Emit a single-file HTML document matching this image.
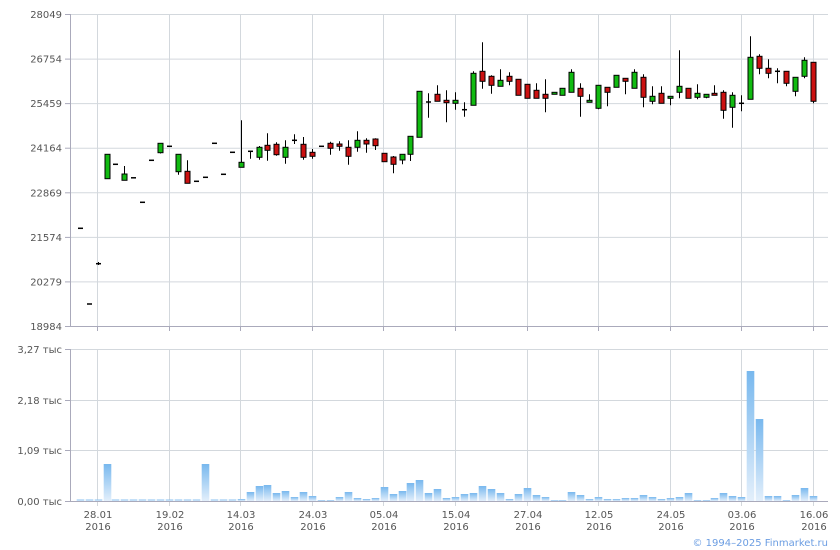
<!DOCTYPE html>
<html><head><meta charset="utf-8"><style>
html,body{margin:0;padding:0;background:#fff;}
svg{display:block;font-family:"DejaVu Sans",Verdana,sans-serif;}
</style></head><body>
<svg id="s" width="840" height="550" xmlns="http://www.w3.org/2000/svg">
<defs><linearGradient id="vg" x1="0" y1="0" x2="0" y2="1"><stop offset="0" stop-color="#78b8ee"/><stop offset="1" stop-color="#e3effb"/></linearGradient></defs>
<g id="grid" stroke="#d3d8dd" stroke-width="1"></g>
<g id="lab" font-size="10" fill="#555"></g>
<g id="vol"></g>
<g id="cnd"></g>
<text x="828" y="546" font-size="10" fill="#6b9de2" text-anchor="end">© 1994–2025 Finmarket.ru</text>
</svg>
<script>
var NS="http://www.w3.org/2000/svg";
function el(p,t,a,txt){var e=document.createElementNS(NS,t);for(var k in a)e.setAttribute(k,a[k]);if(txt!=null)e.textContent=txt;document.getElementById(p).appendChild(e);return e;}
var py=[14,58.6,103.1,147.7,192.3,236.9,281.4,326],pl=["28049","26754","25459","24164","22869","21574","20279","18984"];
for(var i=0;i<8;i++){el("grid","line",{x1:70,x2:828,y1:py[i]+.5,y2:py[i]+.5});el("grid","line",{x1:65,x2:70,y1:py[i]+.5,y2:py[i]+.5,stroke:"#aab"});el("lab","text",{x:62,y:py[i]+4,"text-anchor":"end"},pl[i]);}
var vy=[349,400,450,501],vl=["3,27 тыс","2,18 тыс","1,09 тыс","0,00 тыс"];
for(i=0;i<4;i++){el("grid","line",{x1:70,x2:828,y1:vy[i]+.5,y2:vy[i]+.5});el("grid","line",{x1:65,x2:70,y1:vy[i]+.5,y2:vy[i]+.5,stroke:"#aab"});el("lab","text",{x:62,y:vy[i]+4,"text-anchor":"end"},vl[i]);}
var gx=[97,169,240,312,383,455,527,598,670,741,813],gl=["28.01","19.02","14.03","24.03","05.04","15.04","27.04","12.05","24.05","03.06","16.06"];
for(i=0;i<11;i++){var x=gx[i]+.5;el("grid","line",{x1:x,x2:x,y1:14,y2:326});el("grid","line",{x1:x,x2:x,y1:349,y2:506});el("grid","line",{x1:x,x2:x,y1:326,y2:331,stroke:"#aab"});
el("lab","text",{x:gx[i]+1,y:518,"text-anchor":"middle"},gl[i]);el("lab","text",{x:gx[i]+1,y:530,"text-anchor":"middle"},"2016");}
el("grid","line",{x1:70.5,x2:70.5,y1:14,y2:327,stroke:"#aab"});el("grid","line",{x1:70,x2:828,y1:326.5,y2:326.5,stroke:"#aab"});
el("grid","line",{x1:70.5,x2:70.5,y1:349,y2:502,stroke:"#aab"});el("grid","line",{x1:70,x2:828,y1:501.5,y2:501.5,stroke:"#aab"});
var C=[["d",228.3],["d",304],["d",263.7,0,262,265],["g",154.3,178.7],["d",164.3],["g",174,180.3,166,180.3],["d",177.8],["d",202.3],["d",160.3],["g",143.3,152.7,143,153.5],
["d",146.3],["g",154.3,171.7,154,174.7],["r",171.3,183.3,160.3,183.3],["d",181.3],["d",177.3],["d",143.3],["d",174.3],["d",152.3],["g",162.3,167.3,120.3,167.3],["d",151.3,0,151,158.7],
["g",147.3,157.3,146,159.7],["r",145.3,150.3,133.3,160.7],["r",144.3,154.7,142.3,155.7],["g",147.3,157.3,140.3,163.7],["d",140.3,0,134.3,144],["r",144.3,157.3,137,159.7],["r",152.3,156.3,149,158.7],["d",146.3],["r",143.3,148.3,141.7,154.7],["r",144,146.3,141.3,150.7],
["r",147.3,156.3,140.3,164.7],["g",140.3,147.3,131.3,151.7],["r",140.3,144,138.3,152.7],["r",139,145.7,138.3,150],["r",153.3,161.7,153,162],["r",157,164.3,156,173.3],["g",154.3,160,154,164.3],["g",136.3,154.3,136,161],["g",91.3,137.3],["d",102,0,93.3,117.7],
["r",94.3,101.3,85.3,101.3],["r",100.3,102.7,90.3,122.3],["g",100.3,103.3,92.3,109.7],["d",109.7,0,102.3,116.7],["g",73.3,105.3,71.3,105.3],["r",71.3,81.3,42.3,88.7],["r",76.3,85.3,75.3,93.7],["g",80.3,86.3,69.3,86.3],["r",76.3,81.3,72.3,85.3],["r",79.3,95.3],
["r",84.3,98.3],["r",90.3,98.3,83.3,98.3],["r",94.3,98.3,79.3,112.3],["g",92.3,94.3],["g",88.3,95.3],["g",72.3,92.3,69.3,92.3],["r",88.3,96.3,83.3,116.7],["g",100.3,102.3,94.3,102.3],["g",85.3,108.3,85.3,109.3],["r",87.3,92.3,87.3,106.3],
["g",75.3,87.3],["r",78.3,81.3,78.3,94.3],["g",72.3,88.3,69.3,88.3],["r",77.3,97.3,74.3,107.3],["g",96.3,101.3,86.3,104.3],["r",93.3,103.3,86.3,103.3],["g",96.3,98.3,96.3,105.3],["g",86.3,92.3,50.3,98.3],["r",88.3,98.3],["g",93.3,97.3,84.3,99.3],
["g",94.3,97.3,94.3,98.3],["r",93.3,95.3,85.3,95.3],["r",92.3,110.3,90.3,118.7],["g",95.3,107.3,92.3,127.7],["d",103.3,0,95.3,111.3],["g",57.3,99.3,36.3,99.3],["r",56.3,68.3,54.3,74.3],["r",68.3,73.3,59.3,78.3],["d",71.3,0,68.3,83.3],["r",71.3,83.3,71.3,86.3],
["g",77.3,91.3,77.3,96.3],["g",60.3,76.3,57.3,78.3],["r",62.3,101.3,62.3,103.3]];
var V={3:464,14:464,18:499,19:492,20:486,21:485,22:493,23:491,24:497,25:492,26:496,27:500,28:500,29:497,30:492,31:498,32:499,33:498,34:487,35:494,36:491,37:483,38:480,39:493,40:489,41:498,42:497,43:494,44:493,45:486,46:489,47:493,48:499,49:494,50:488,51:495,52:497,53:500,54:500,55:492,56:495,57:499,58:497,59:499,60:499,61:498,62:498,63:495,64:497,65:499,66:498,67:497,68:493,69:500,70:500,71:498,72:493,73:496,74:497,75:371,76:419,77:496,78:496,79:500,80:495,81:488,82:496};
for(i=0;i<C.length;i++){
 var cx=Math.round(79.7+i*8.94)+.5,c=C[i];
 var vt=V[i]||499.5;el("vol","rect",{x:cx-3.8,y:vt,width:7.6,height:501-vt,fill:"url(#vg)"});
 if(c.length>3)el("cnd","line",{x1:cx,x2:cx,y1:c[3],y2:c[4],stroke:"#000","stroke-width":1});
 if(c[0]=="d"){el("cnd","line",{x1:cx-2.5,x2:cx+2.5,y1:c[1],y2:c[1],stroke:"#000","stroke-width":1.5});}
 else{el("cnd","rect",{x:cx-2.5,y:c[1],width:5,height:Math.max(1.5,c[2]-c[1]),fill:c[0]=="g"?"#11bb11":"#cc1111",stroke:"#000","stroke-width":1});}
}
</script>
</body></html>
